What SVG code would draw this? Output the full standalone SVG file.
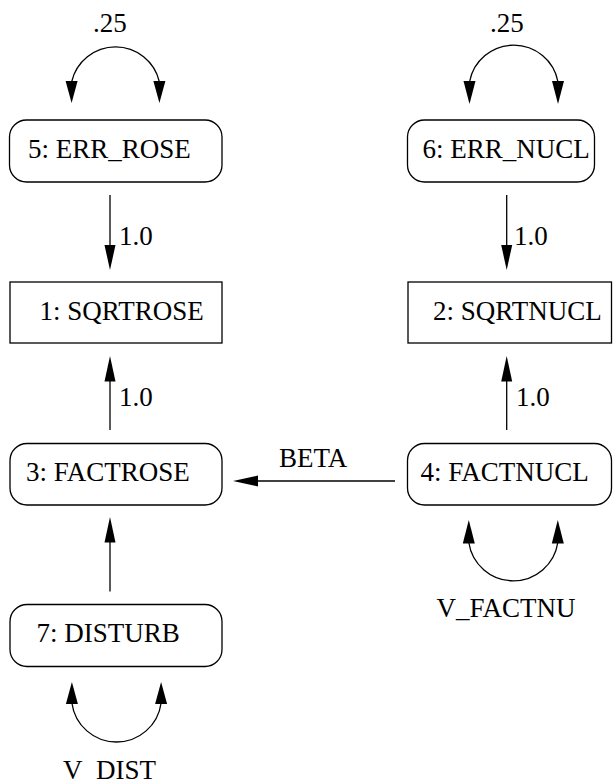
<svg xmlns="http://www.w3.org/2000/svg" width="613" height="780" viewBox="0 0 613 780">
  <style>
    .box { fill: #fff; stroke: #000; stroke-width: 1.3; }
    .edge { fill: none; stroke: #000; stroke-width: 1.3; }
    .head { fill: #000; stroke: none; }
    text { font-family: "Liberation Serif", "Times New Roman", serif; font-size: 27px; fill: #000; }
  </style>
  <rect width="613" height="780" fill="#fff"/>

  <!-- nodes -->
  <g id="n5">
    <rect class="box" x="9.5" y="120" width="212.5" height="62" rx="17"/>
    <text x="28" y="158">5: ERR_ROSE</text>
  </g>
  <g id="n6">
    <rect class="box" x="407.5" y="120" width="187" height="62" rx="17"/>
    <text x="422.5" y="158">6: ERR_NUCL</text>
  </g>
  <g id="n1">
    <rect class="box" x="10" y="282" width="212" height="61"/>
    <text x="39.5" y="320">1: SQRTROSE</text>
  </g>
  <g id="n2">
    <rect class="box" x="408" y="282" width="203.5" height="61"/>
    <text x="433" y="320">2: SQRTNUCL</text>
  </g>
  <g id="n3">
    <rect class="box" x="10" y="443.5" width="212" height="61.5" rx="17"/>
    <text x="26" y="481">3: FACTROSE</text>
  </g>
  <g id="n4">
    <rect class="box" x="407.5" y="443.5" width="204" height="61.5" rx="17"/>
    <text x="420.5" y="481">4: FACTNUCL</text>
  </g>
  <g id="n7">
    <rect class="box" x="10" y="604.5" width="212" height="62" rx="17"/>
    <text x="36.5" y="641.5">7: DISTURB</text>
  </g>

  <!-- connectors -->
  <g id="edges">
    <!-- variance loops -->
    <path class="edge" d="M71.6 82 A45 45 0 0 1 159.4 82"/>
    <polygon class="head" points="65.6,81 77.6,81 71.6,103"/>
    <polygon class="head" points="153.4,81 165.4,81 159.4,103"/>
    <text x="93" y="32">.25</text>

    <path class="edge" d="M469.5 82 A45 45 0 0 1 558 82"/>
    <polygon class="head" points="463.5,81 475.5,81 469.5,104"/>
    <polygon class="head" points="552,81 564,81 558,104"/>
    <text x="490" y="32">.25</text>

    <path class="edge" d="M468.8 542.5 A45 45 0 0 0 557.8 542.5"/>
    <polygon class="head" points="462.8,543.5 474.8,543.5 468.8,520"/>
    <polygon class="head" points="551.8,543.5 563.8,543.5 557.8,520"/>
    <text x="436.5" y="617">V_FACTNU</text>

    <path class="edge" d="M71.9 703 A45 45 0 0 0 161.1 703"/>
    <polygon class="head" points="65.9,704 77.9,704 71.9,682"/>
    <polygon class="head" points="155.1,704 167.1,704 161.1,682"/>
    <text x="63" y="779">V_DIST</text>

    <!-- loadings -->
    <line class="edge" x1="110" y1="195" x2="110" y2="250"/>
    <polygon class="head" points="104.5,245 115.5,245 110,270"/>
    <text x="119" y="245">1.0</text>

    <line class="edge" x1="506.7" y1="195" x2="506.7" y2="250"/>
    <polygon class="head" points="501.2,245 512.2,245 506.7,270"/>
    <text x="514" y="245">1.0</text>

    <line class="edge" x1="110" y1="430" x2="110" y2="376"/>
    <polygon class="head" points="104.5,381.5 115.5,381.5 110,356"/>
    <text x="119" y="406">1.0</text>

    <line class="edge" x1="506.7" y1="430" x2="506.7" y2="376"/>
    <polygon class="head" points="501.2,381.5 512.2,381.5 506.7,356"/>
    <text x="516" y="406">1.0</text>

    <line class="edge" x1="110" y1="591.5" x2="110" y2="537"/>
    <polygon class="head" points="104.5,542.5 115.5,542.5 110,517"/>

    <line class="edge" x1="395" y1="481" x2="252" y2="481"/>
    <polygon class="head" points="258,475.5 258,486.5 233,481"/>
    <text x="279" y="467">BETA</text>
  </g>
</svg>
